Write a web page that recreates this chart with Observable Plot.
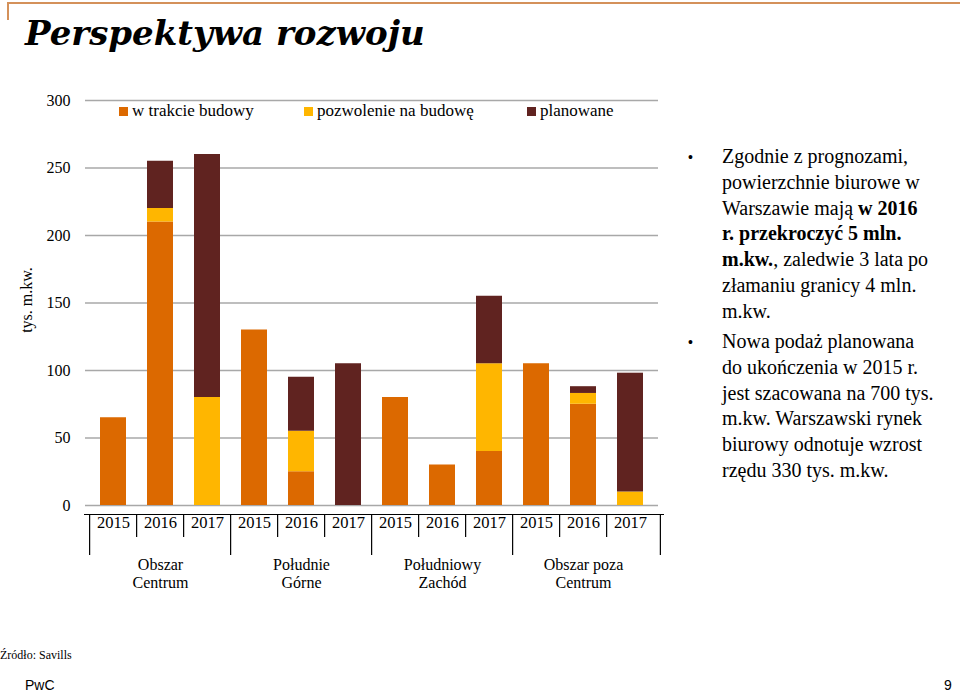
<!DOCTYPE html>
<html>
<head>
<meta charset="utf-8">
<script src="https://cdn.jsdelivr.net/npm/d3@7"></script>
<script src="https://cdn.jsdelivr.net/npm/@observablehq/plot@0.6"></script>
<style>
  html, body { margin: 0; padding: 0; background: #fff; }
  #page { position: relative; width: 960px; height: 692px; overflow: hidden; background: #fff; }
  .abs { position: absolute; white-space: nowrap; }
  #title { left: 25px; top: 13px; font-family: "DejaVu Serif", serif; font-weight: bold; font-style: italic; font-size: 34px; color: #000; }
  #chart { position: absolute; left: 0; top: 80px; }
  .legend { font-family: "Liberation Serif", serif; font-size: 17px; color: #000; }
  .sw { display: inline-block; width: 9px; height: 9px; margin-right: 4px; vertical-align: 0px; }
  #ylabel { left: 27px; top: 300px; font-family: "Liberation Serif", serif; font-size: 16px; transform: translate(-50%, -50%) rotate(-90deg); }
  .note { font-family: "Liberation Serif", serif; font-size: 20px; line-height: 25.8px; color: #000; }
  .bullet { font-family: "Liberation Sans", sans-serif; font-size: 14px; }
</style>
</head>
<body>
<div id="page">
  <div class="abs" style="left:7px; top:2px; width:953px; height:2px; background:#D4915A;"></div>
  <div class="abs" style="left:7px; top:2px; width:2px; height:18px; background:#D4915A;"></div>
  <div id="title" class="abs">Perspektywa rozwoju</div>
  <div id="chart"></div>
  <div id="legend"></div>
  <div id="ylabel" class="abs">tys. m.kw.</div>
  <div id="notes"></div>
  <div class="abs" style="left:0; top:648px; font-family:'Liberation Serif',serif; font-size:12px;">Źródło: Savills</div>
  <div class="abs" style="left:25px; top:677px; font-family:'Liberation Sans',sans-serif; font-size:14px;">PwC</div>
  <div class="abs" style="left:944px; top:677px; font-family:'Liberation Sans',sans-serif; font-size:14px;">9</div>
</div>
<script>
// ---- data ----
const groups = ["Obszar Centrum", "Południe Górne", "Południowy Zachód", "Obszar poza Centrum"];
const groupLabels = ["Obszar\nCentrum", "Południe\nGórne", "Południowy\nZachód", "Obszar poza\nCentrum"];
const years = ["2015", "2016", "2017"];
const series = ["w trakcie budowy", "pozwolenie na budowę", "planowane"];
const colors = ["#DC6900", "#FFB600", "#602320"];
const wTrakcieBudowy = [65, 210, 0, 130, 25, 0, 80, 30, 40, 105, 75, 0];
const pozwolenieNaBudowe = [0, 10, 80, 0, 30, 0, 0, 0, 65, 0, 8, 10];
const planowane = [0, 35, 180, 0, 40, 105, 0, 0, 50, 0, 5, 88];
const yTicks = [0, 50, 100, 150, 200, 250, 300];
const notes = [
  ["Zgodnie z prognozami,", "powierzchnie biurowe w", "Warszawie mają <b>w 2016</b>", "<b>r. przekroczyć 5 mln.</b>", "<b>m.kw.</b>, zaledwie 3 lata po", "złamaniu granicy 4 mln.", "m.kw."],
  ["Nowa podaż planowana", "do ukończenia w 2015 r.", "jest szacowana na 700 tys.", "m.kw. Warszawski rynek", "biurowy odnotuje wzrost", "rzędu 330 tys. m.kw."]
];

// ---- derived table ----
const keys = [];
groups.forEach(g => years.forEach(y => keys.push(g + "|" + y)));
const seriesValues = [wTrakcieBudowy, pozwolenieNaBudowe, planowane];
const rows = [];
series.forEach((s, si) => keys.forEach((k, i) => rows.push({key: k, series: s, value: seriesValues[si][i]})));
const groupRows = groups.map((g, i) => ({mid: g + "|" + years[1], label: groupLabels[i]}));
const groupStarts = groups.map(g => g + "|" + years[0]);
const innerKeys = keys.filter(k => !groupStarts.includes(k));

// ---- layout ----
const W = 670, H = 530, mT = 20, mB = 105, mL = 85, mR = 12;
const frameH = H - mT - mB;
const step = (W - mL - mR) / keys.length;
const font = "'Liberation Serif', serif";

const chart = Plot.plot({
  width: W, height: H,
  marginTop: mT, marginBottom: mB, marginLeft: mL, marginRight: mR,
  style: {fontFamily: font, fontSize: "15px", background: "transparent", color: "#000", overflow: "visible"},
  x: {type: "band", domain: keys, paddingInner: 0.44, paddingOuter: 0.22, axis: null},
  y: {domain: [0, 300], axis: null},
  color: {domain: series, range: colors},
  marks: [
    Plot.gridY(yTicks, {stroke: "#a8a8a8", strokeOpacity: 1, strokeWidth: 1.6}),
    Plot.axisY(yTicks, {tickSize: 0, tickPadding: 15, fontSize: 16, label: null, fill: "#000"}),
    Plot.barY(rows, {x: "key", y: "value", fill: "series", order: series}),
    Plot.axisX({tickSize: 0, tickPadding: 11, fontSize: 16.5, label: null, fill: "#000", tickFormat: d => d.split("|")[1]}),
    Plot.ruleY([0], {dy: 9, insetLeft: -1, insetRight: -6, stroke: "#000", strokeWidth: 1.2}),
    Plot.ruleX(innerKeys, {x: d => d, dx: -step / 2, insetTop: frameH + 9, insetBottom: -32, stroke: "#000", strokeWidth: 1.2}),
    Plot.ruleX(groupStarts, {x: d => d, dx: -step / 2, insetTop: frameH + 9, insetBottom: -50, stroke: "#000", strokeWidth: 1.2}),
    Plot.ruleX([keys[keys.length - 1]], {x: d => d, dx: step / 2 + 6, insetTop: frameH + 9, insetBottom: -50, stroke: "#000", strokeWidth: 1.2}),
    Plot.text(groupRows, {x: "mid", text: "label", frameAnchor: "bottom", lineAnchor: "top", dy: 51, fontSize: 16, lineHeight: 1.15, fill: "#000"})
  ]
});
document.getElementById("chart").appendChild(chart);

// ---- legend ----
const legendX = [119, 304, 527];
const legend = document.getElementById("legend");
series.forEach((s, i) => {
  const d = document.createElement("div");
  d.className = "abs legend";
  d.style.left = legendX[i] + "px";
  d.style.top = "101px";
  d.innerHTML = `<span class="sw" style="background:${colors[i]}"></span>${s}`;
  legend.appendChild(d);
});

// ---- notes ----
const notesEl = document.getElementById("notes");
const noteTops = [144, 329];
notes.forEach((lines, p) => {
  const b = document.createElement("div");
  b.className = "abs bullet";
  b.style.left = "688px";
  b.style.top = (noteTops[p] + 5) + "px";
  b.textContent = "•";
  notesEl.appendChild(b);
  const t = document.createElement("div");
  t.className = "abs note";
  t.style.left = "722px";
  t.style.top = noteTops[p] + "px";
  t.innerHTML = lines.join("<br>");
  notesEl.appendChild(t);
});
</script>
</body>
</html>
